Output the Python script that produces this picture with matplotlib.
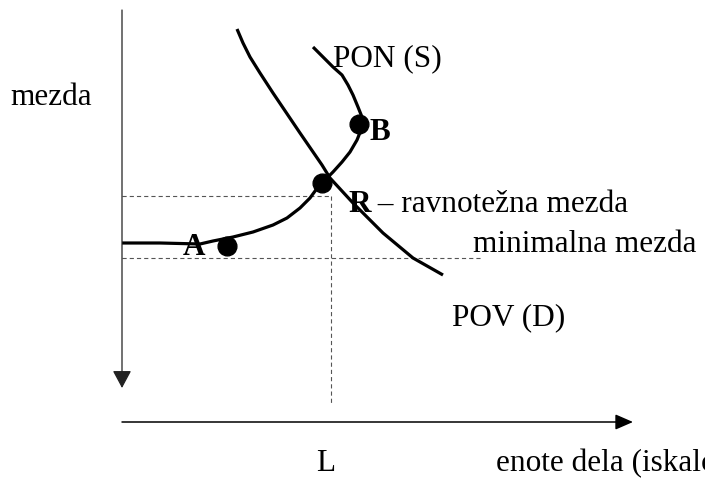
import matplotlib.pyplot as plt

plt.rcParams['font.family'] = ['Liberation Serif', 'DejaVu Serif']
plt.rcParams['lines.scale_dashes'] = False

# diagram units: origin at the corner of the two axes, wage upward
pov_x = [115, 121, 128, 138, 151, 178, 200, 208, 231, 261, 291, 321]
pov_y = [393, 379, 365, 349, 329, 289, 257, 244, 219, 189, 164, 147]

pon_x = [191, 201, 211, 220, 226, 231, 236, 240, 240, 239, 235, 228, 220, 211, 205,
         196, 188, 178, 165, 151, 131, 111, 91, 78, 38, 0]
pon_y = [375, 365, 355, 347, 337, 327, 315, 305, 298, 292, 282, 270, 260, 250, 244,
         235, 224, 214, 204, 197, 190, 185, 181, 178, 179, 179]

point_names = ['A', 'R', 'B']
point_x = [105, 200, 237]
point_y = [176, 239, 298]

eq_wage = 226
eq_labour = 209
min_wage = 164
min_wage_end = 360

fs = 22.5
fig = plt.figure(figsize=(7.05, 4.79), dpi=100)
ax = fig.add_axes([0, 0, 1, 1])
ax.set_xlim(-122, 583)
ax.set_ylim(-57, 422)
ax.axis('off')

dash = dict(color='#555555', lw=0.8, ls=(0, (3.0, 2.2)))
ax.plot([0, eq_labour], [eq_wage, eq_wage], **dash)
ax.plot([eq_labour, eq_labour], [eq_wage, 19], **dash)
ax.plot([0, min_wage_end], [min_wage, min_wage], **dash)

# axes arrows
ax.annotate('', xy=(0, 34), xytext=(0, 412),
            arrowprops=dict(arrowstyle='-|>,head_length=1.08,head_width=0.58',
                            mutation_scale=10, lw=0.9, color='#222222',
                            shrinkA=0, shrinkB=0))
ax.annotate('', xy=(511, 0), xytext=(0, 0),
            arrowprops=dict(arrowstyle='-|>,head_length=1.08,head_width=0.47',
                            mutation_scale=10, lw=1.1, color='black',
                            shrinkA=0, shrinkB=0))

ax.plot(pov_x, pov_y, color='black', lw=2.3, solid_joinstyle='round', solid_capstyle='butt')
ax.plot(pon_x, pon_y, color='black', lw=2.3, solid_joinstyle='round', solid_capstyle='butt')
ax.plot(point_x, point_y, 'o', color='black', ms=13.5, zorder=5)

ax.text(-112, 317, 'mezda', fontsize=fs, va='baseline')
ax.text(211, 356, 'PON (S)', fontsize=fs, va='baseline')
ax.text(248, 282, 'B', fontsize=fs, va='baseline', fontweight='bold')
ax.text(61, 167, 'A', fontsize=fs, va='baseline', fontweight='bold')
r = ax.text(226, 210, 'R', fontsize=fs, va='baseline', fontweight='bold')
ax.annotate(' – ravnotežna mezda', xy=(1, 0), xycoords=r, fontsize=fs,
            va='bottom', ha='left')
ax.text(351, 170, 'minimalna mezda', fontsize=fs, va='baseline')
ax.text(330, 97, 'POV (D)', fontsize=fs, va='baseline')
ax.text(194, -49, 'L', fontsize=fs, va='baseline')
# the reference cuts this label at the right edge
ax.text(374, -49, 'enote dela (iskalci zaposlitve)', fontsize=fs, va='baseline')

fig.savefig('out.png', dpi=100)
